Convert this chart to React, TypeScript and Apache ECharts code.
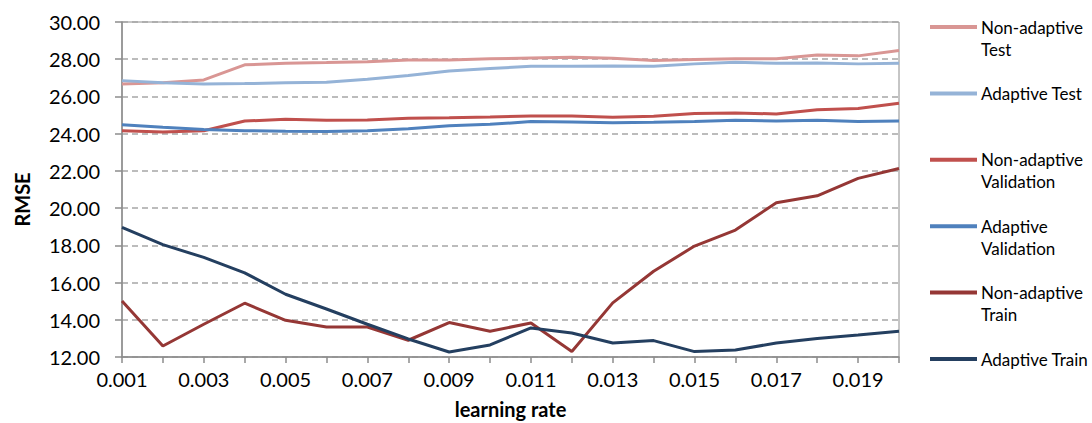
import React, { useEffect, useRef } from "react";
import * as echarts from "echarts";

const learningRates = [
  "0.001", "0.002", "0.003", "0.004", "0.005", "0.006", "0.007", "0.008", "0.009", "0.010",
  "0.011", "0.012", "0.013", "0.014", "0.015", "0.016", "0.017", "0.018", "0.019", "0.020",
];

const nonAdaptiveTest = [
  26.67, 26.74, 26.89, 27.7, 27.78, 27.82, 27.87, 27.96, 27.96, 28.02,
  28.06, 28.1, 28.05, 27.93, 27.98, 28.02, 28.02, 28.23, 28.18, 28.47,
];
const adaptiveTest = [
  26.85, 26.74, 26.67, 26.69, 26.73, 26.76, 26.92, 27.12, 27.37, 27.5,
  27.62, 27.62, 27.64, 27.62, 27.75, 27.84, 27.78, 27.8, 27.75, 27.78,
];
const nonAdaptiveValidation = [
  24.16, 24.09, 24.16, 24.68, 24.77, 24.72, 24.74, 24.83, 24.86, 24.9,
  24.95, 24.95, 24.88, 24.93, 25.08, 25.11, 25.06, 25.29, 25.35, 25.63,
];
const adaptiveValidation = [
  24.48, 24.34, 24.23, 24.16, 24.13, 24.11, 24.16, 24.27, 24.43, 24.5,
  24.65, 24.63, 24.59, 24.61, 24.66, 24.72, 24.68, 24.72, 24.66, 24.68,
];
const nonAdaptiveTrain = [
  15.01, 12.59, 13.76, 14.89, 13.97, 13.61, 13.61, 12.9, 13.85, 13.38,
  13.83, 12.3, 14.91, 16.61, 17.96, 18.82, 20.29, 20.66, 21.6, 22.13,
];
const adaptiveTrain = [
  18.96, 18.04, 17.35, 16.52, 15.37, 14.58, 13.76, 12.97, 12.27, 12.65,
  13.56, 13.29, 12.75, 12.88, 12.29, 12.38, 12.75, 13.0, 13.18, 13.38,
];

const seriesNames = [
  "Non-adaptive Test",
  "Adaptive Test",
  "Non-adaptive Validation",
  "Adaptive Validation",
  "Non-adaptive Train",
  "Adaptive Train",
];
const legendLabels = [
  "Non-adaptive\nTest",
  "Adaptive Test",
  "Non-adaptive\nValidation",
  "Adaptive\nValidation",
  "Non-adaptive\nTrain",
  "Adaptive Train",
];
const seriesColors = ["#D99694", "#95B3D7", "#C0504D", "#4F81BD", "#953735", "#243F60"];
const seriesData = [
  nonAdaptiveTest,
  adaptiveTest,
  nonAdaptiveValidation,
  adaptiveValidation,
  nonAdaptiveTrain,
  adaptiveTrain,
];

const FONT = "Lato, 'Open Sans', sans-serif";

export default function App() {
  const ref = useRef<HTMLDivElement>(null);

  useEffect(() => {
    if (!ref.current) return;
    const chart = echarts.init(ref.current, undefined, { renderer: "svg" });

    // Side legend: a short line and a (possibly two-line) label per series
    const legendTop = 27;
    const legendStep = 66.4;
    const legendItems: any[] = [];
    legendLabels.forEach((label, i) => {
      const yc = legendTop + i * legendStep;
      legendItems.push({
        type: "line",
        shape: { x1: 930, y1: yc, x2: 977, y2: yc },
        style: { stroke: seriesColors[i], lineWidth: 4 },
      });
      legendItems.push({
        type: "text",
        x: 981,
        y: yc - 11,
        style: {
          text: label,
          fill: "#000",
          font: `17px ${FONT}`,
          lineHeight: 22,
          verticalAlign: "top",
          align: "left",
        },
      });
    });

    chart.setOption({
      animation: false,
      backgroundColor: "#fff",
      grid: {
        left: 122,
        right: 193,
        top: 22,
        bottom: 66,
        outerBoundsMode: "none",
        containLabel: false,
        show: true,
        borderColor: "#8C8C8C",
        borderWidth: 1,
        backgroundColor: "transparent",
      },
      xAxis: {
        type: "category",
        data: learningRates,
        boundaryGap: false,
        name: "learning rate",
        nameLocation: "middle",
        nameGap: 42,
        nameTextStyle: { fontFamily: FONT, fontSize: 20, fontWeight: "bold", color: "#000" },
        axisLine: { lineStyle: { color: "#8C8C8C", width: 1.5 } },
        axisTick: { show: true, interval: 0, length: 6, lineStyle: { color: "#8C8C8C", width: 1.5 } },
        axisLabel: { interval: 1, margin: 12, fontFamily: FONT, fontSize: 20, color: "#000" },
        splitLine: { show: false },
      },
      yAxis: {
        type: "value",
        min: 12,
        max: 30,
        interval: 2,
        name: "RMSE",
        nameLocation: "middle",
        nameGap: 90,
        nameTextStyle: {
          fontFamily: FONT,
          fontSize: 20,
          fontWeight: "bold",
          color: "#000",
          padding: [0, 20, 0, 0],
        },
        axisLine: { show: true, lineStyle: { color: "#8C8C8C", width: 1.5 } },
        axisTick: { show: true, length: 7, lineStyle: { color: "#8C8C8C", width: 1.5 } },
        axisLabel: {
          margin: 22,
          fontFamily: FONT,
          fontSize: 20,
          color: "#000",
          formatter: (v: number) => v.toFixed(2),
        },
        splitLine: { show: true, lineStyle: { color: "#A6A6A6", width: 1.5, type: [6, 4] } },
      },
      series: seriesData.map((data, i) => ({
        name: seriesNames[i],
        type: "line",
        data,
        showSymbol: false,
        symbol: "none",
        lineStyle: { color: seriesColors[i], width: 3 },
        itemStyle: { color: seriesColors[i] },
      })),
      graphic: legendItems,
    });

    return () => chart.dispose();
  }, []);

  return (
    <div
      ref={ref}
      style={{ position: "fixed", left: 0, top: 0, width: 1092, height: 423, background: "#fff" }}
    />
  );
}
